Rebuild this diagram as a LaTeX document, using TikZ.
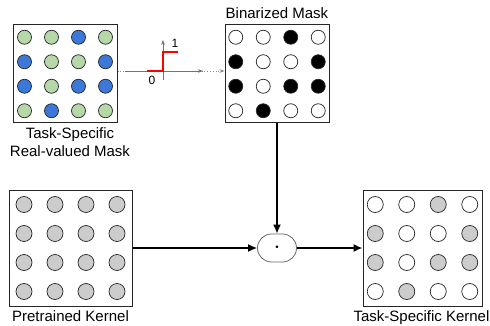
\documentclass[tikz,border=0pt]{standalone}
\usepackage{fontspec}
\setmainfont{Liberation Sans}
\usetikzlibrary{arrows.meta,calc,positioning}
\definecolor{real0}{HTML}{B6D7A8}
\definecolor{real1}{HTML}{3C78D8}
\definecolor{bin0}{HTML}{FFFFFF}
\definecolor{bin1}{HTML}{000000}
\definecolor{task0}{HTML}{FFFFFF}
\definecolor{task1}{HTML}{CCCCCC}
\definecolor{pre0}{HTML}{CCCCCC}
\definecolor{pre1}{HTML}{CCCCCC}
% #1 box, #2 dx, #3 dy, #4 radius, #5 colour prefix
\newcommand{\dotgrid}[5]{%
  \foreach \row [count=\i] in {{0,0,1,0},{1,0,0,1},{1,0,1,1},{0,1,0,0}}
    \foreach \v [count=\j] in \row
      \draw[griddot, fill=#5\v] ($(#1)+({(\j-2.5)*#2},{(\i-2.5)*#3})$) circle (#4);}

\begin{document}
\begin{tikzpicture}[x=1pt, y=-1pt, font=\fontsize{15}{18}\selectfont,
  kbox/.style={draw=black!85, line width=1pt, inner sep=0pt},
  griddot/.style={draw=black!85, line width=0.7pt},
  conn/.style={-{Latex[length=9pt,width=8pt]}, line width=1.5pt}]
  \useasboundingbox (0,0) rectangle (490,326);

  \node[kbox, minimum width=104pt, minimum height=98pt] (mask) at (65,74) {};
  \node[kbox, minimum width=104pt, minimum height=98pt] (bin) at (277,74) {};
  \node[kbox, minimum width=123pt, minimum height=116pt] (pre) at (70.5,248) {};
  \node[kbox, minimum width=119pt, minimum height=116pt] (task) at (422.5,248) {};

  \dotgrid{mask}{27}{24.5}{7pt}{real}
  \dotgrid{bin}{27.5}{24.5}{7pt}{bin}
  \dotgrid{pre}{31}{29}{8pt}{pre}
  \dotgrid{task}{31.5}{29}{8pt}{task}

  \node[below=1pt of mask, xshift=5pt, align=center] (masklabel) {Task-Specific\\Real-valued Mask};
  \node[above=2pt of bin] (binlabel) {Binarized Mask};
  \node[below=1pt of pre] (prelabel) {Pretrained Kernel};
  \node[below=1pt of task, xshift=-1pt] (tasklabel) {Task-Specific Kernel};

  \node[draw=black!60, line width=0.8pt, rounded corners=13.9pt, minimum width=39pt,
        minimum height=28pt, inner sep=0pt, font=\fontsize{24}{24}\selectfont] (mul) at (277,248) {$\cdot$};

  % sign step between the masks
  \draw[black!45, dotted, line width=0.8pt, -{Stealth[length=5pt]}] ([yshift=3pt]mask.east) -- ([yshift=3pt]bin.west);
  \coordinate (o) at (163,71);
  \draw[black!55, line width=0.8pt, -{Stealth[length=5pt]}] ($(o)+(-38,0)$) -- ($(o)+(40,0)$);
  \draw[black!55, line width=0.8pt, -{Stealth[length=5pt]}] ($(o)+(0,9)$) -- ($(o)+(0,-31)$);
  \draw[red, line width=2.2pt] ($(o)+(-16,0)$) -- (o) -- ($(o)+(0,-19)$) -- ($(o)+(15,-19)$);
  \node[font=\fontsize{12}{14}\selectfont] (one) at ($(o)+(12,-28)$) {1};
  \node[font=\fontsize{12}{14}\selectfont] (zero) at ($(o)+(-11,9)$) {0};

  \draw[conn] (bin.south) -- (mul.north);
  \draw[conn] (pre.east) -- (mul.west);
  \draw[conn] (mul.east) -- (task.west);
\end{tikzpicture}
\end{document}
